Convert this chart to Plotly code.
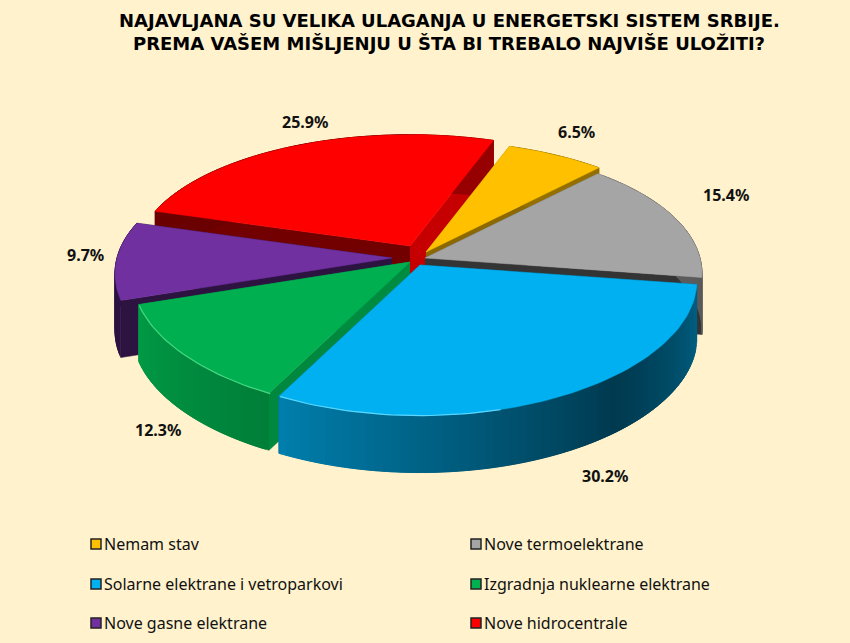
import numpy as np
import plotly.graph_objects as go

title_lines = ['NAJAVLJANA SU VELIKA ULAGANJA U ENERGETSKI SISTEM SRBIJE.',
               'PREMA VAŠEM MIŠLJENJU U ŠTA BI TREBALO NAJVIŠE ULOŽITI?']
labels = ['Nemam stav', 'Nove termoelektrane', 'Solarne elektrane i vetroparkovi',
          'Izgradnja nuklearne elektrane', 'Nove gasne elektrane', 'Nove hidrocentrale']
values = [6.5, 15.4, 30.2, 12.3, 9.7, 25.9]
colors = [(255, 192, 0), (165, 165, 165), (0, 176, 240), (0, 176, 80), (112, 48, 160), (255, 0, 0)]

BG = '#FFF2CC'
FONT = 'Noto Sans'

# pie geometry, in page pixels
RX, RY, PERSP_X, PERSP_Y, DEPTH = 275, 128, 0.12, 0.15, 57
START = 19.7
apex = [(426, 252), (425, 258), (420, 265), (410, 262), (392, 258), (410, 246)]
side_shade = [(0.7, 0.55), (0.5, 0.32), (0.5, 0.5), (0.78, 0.8), (0.4, 0.4), (0.45, 0.78)]
draw_order = [5, 0, 1, 4, 3, 2]
wall_t = [0, 100, 140, 207, 251.4, 251.6, 360]
wall_k = [0.6, 0.55, 0.33, 0.72, 0.88, 0.42, 0.42]
label_pos = [(576, 132), (726, 195), (605, 476), (158, 430), (85, 255), (305, 122)]
legend_pos = [(96, 544), (476, 544), (96, 584), (476, 584), (96, 623), (476, 623)]
rim_glow = {2: ((165, 207), (90, 215, 255)), 3: ((207, 251), (70, 215, 130))}


def ring(t):
    rad = np.radians(t)
    u, v = np.sin(rad), np.cos(rad)
    return RX * u / (1 + PERSP_X * v), -RY * v / (1 + PERSP_Y * v)


def rgb(c, k=1.0):
    return 'rgb(%d,%d,%d)' % tuple(min(255, x * k) for x in c)


def poly(fig, xs, ys, color):
    fig.add_trace(go.Scatter(x=xs, y=ys, mode='lines', fill='toself', fillcolor=color,
                             line=dict(color=color, width=0.5), hoverinfo='skip', showlegend=False))


fig = go.Figure()

edges = START + np.cumsum([0] + values) * 3.6
for i in draw_order:
    ax, ay = apex[i]
    t0, t1 = edges[i], edges[i + 1]
    ts = np.linspace(t0, t1, 70)
    ex, ey = ring(ts)
    ex, ey = ex + ax, ey + ay

    # radial side walls
    for px, py, k in [(ex[0], ey[0], side_shade[i][0]), (ex[-1], ey[-1], side_shade[i][1])]:
        poly(fig, [ax, px, px, ax], [ay, py, py + DEPTH, ay + DEPTH], rgb(colors[i], k))

    # outer wall, in strips that overlap the next one so no seams show
    for j in range(len(ts) - 1):
        k = np.interp((ts[j] + ts[j + 1]) / 2 % 360, wall_t, wall_k)
        n = min(j + 3, len(ts) - 1)
        poly(fig, [*ex[j:n + 1], *ex[j:n + 1][::-1]],
             [*ey[j:n + 1], *(ey[j:n + 1][::-1] + DEPTH)], rgb(colors[i], k))

    # top face
    poly(fig, [ax, *ex, ax], [ay, *ey, ay], rgb(colors[i]))

    # thin light edge on the front slices
    if i in rim_glow:
        (g0, g1), glow = rim_glow[i]
        gx, gy = ring(np.linspace(g0, g1, 30))
        fig.add_trace(go.Scatter(x=gx + ax, y=gy + ay, mode='lines', hoverinfo='skip', showlegend=False,
                                 line=dict(color=rgb(glow), width=1.2)))

    # percentage label
    fig.add_annotation(x=label_pos[i][0], y=label_pos[i][1], text=f'{values[i]}%', showarrow=False,
                       font=dict(family=FONT, size=16, color='#111111', weight='bold'))

# legend
for i, lab in enumerate(labels):
    lx, ly = legend_pos[i]
    fig.add_trace(go.Scatter(x=[lx], y=[ly], mode='markers', hoverinfo='skip', showlegend=False,
                             marker=dict(symbol='square', size=10, color=rgb(colors[i]),
                                         line=dict(color='#222222', width=1.5))))
    fig.add_annotation(x=lx + 6, y=ly, text=lab, showarrow=False, xanchor='left',
                       font=dict(family=FONT, size=16, color='#111111'))

fig.add_annotation(x=449, y=20, text=title_lines[0], showarrow=False,
                   font=dict(family='DejaVu Sans', size=18, color='#000000', weight='bold'))
fig.add_annotation(x=449, y=43, text=title_lines[1], showarrow=False,
                   font=dict(family='DejaVu Sans', size=18, color='#000000', weight='bold'))

fig.update_layout(
    width=850, height=643,
    margin=dict(l=0, r=0, t=0, b=0),
    paper_bgcolor=BG, plot_bgcolor=BG,
    xaxis=dict(range=[0, 850], visible=False, fixedrange=True),
    yaxis=dict(range=[643, 0], visible=False, fixedrange=True),
    showlegend=False,
)

fig.write_html("out.html", config={'displayModeBar': False},
               post_script="document.body.style.margin = '0';")
